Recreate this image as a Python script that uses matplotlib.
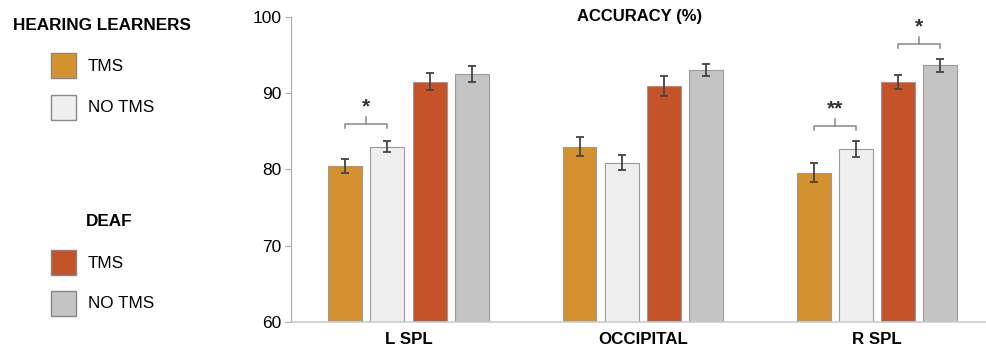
import matplotlib.pyplot as plt
from matplotlib.patches import Rectangle
import numpy as np

plt.rcParams['font.family'] = ['Liberation Sans', 'DejaVu Sans']

regions = ['L SPL', 'OCCIPITAL', 'R SPL']
conditions = ['Hearing TMS', 'Hearing NO TMS', 'Deaf TMS', 'Deaf NO TMS']
colors = ['#D4912F', '#EFEFEF', '#C4532A', '#C4C4C4']

# accuracy (%) per region, one list per condition
hearing_tms = [80.5, 83.0, 79.6]
hearing_notms = [83.0, 80.9, 82.7]
deaf_tms = [91.5, 91.0, 91.5]
deaf_notms = [92.5, 93.1, 93.7]
means = [hearing_tms, hearing_notms, deaf_tms, deaf_notms]

hearing_tms_err = [0.9, 1.2, 1.2]
hearing_notms_err = [0.75, 0.95, 1.1]
deaf_tms_err = [1.1, 1.3, 0.9]
deaf_notms_err = [1.05, 0.8, 0.85]
errs = [hearing_tms_err, hearing_notms_err, deaf_tms_err, deaf_notms_err]

# significance: (region index, bar a, bar b, bracket height, stars)
sig = [(0, 0, 1, 86.0, '*'), (2, 0, 1, 85.7, '**'), (2, 2, 3, 96.5, '*')]

fig = plt.figure(figsize=(9.87, 3.58), dpi=100)
ax = fig.add_axes([0.2953, 0.1006, 0.7047, 0.8519])

x = np.arange(len(regions))
width = 0.145
step = 0.18
offsets = [-1.5 * step, -0.5 * step, 0.5 * step, 1.5 * step]

for i in range(4):
    ax.bar(x + offsets[i], means[i], width, bottom=0, color=colors[i],
           edgecolor='#9a9a9a', linewidth=0.8, zorder=2)
    ax.errorbar(x + offsets[i], means[i], yerr=errs[i], fmt='none',
                ecolor='#444444', elinewidth=1.3, capsize=3, capthick=1.3, zorder=3)

for g, a, b, y, lab in sig:
    xa = x[g] + offsets[a]
    xb = x[g] + offsets[b]
    xm = (xa + xb) / 2
    ax.plot([xa, xa, xb, xb], [y - 0.5, y, y, y - 0.5], color='#888888', lw=1.1, zorder=3)
    ax.plot([xm, xm], [y, y + 0.9], color='#888888', lw=1.1, zorder=3)
    ax.text(xm, y + 1.0, lab, ha='center', va='bottom', fontsize=15,
            fontweight='bold', color='#333333')

ax.set_ylim(60, 100)
ax.set_xlim(-0.5, 2.47)
ax.set_yticks([60, 70, 80, 90, 100])
ax.set_xticks(x)
ax.set_xticklabels(regions, fontsize=12.2, fontweight='bold')
ax.tick_params(axis='y', labelsize=12.5, length=4, color='#aaaaaa', pad=3)
ax.tick_params(axis='x', length=0, pad=7)
ax.spines['top'].set_visible(False)
ax.spines['right'].set_visible(False)
ax.spines['left'].set_color('#aaaaaa')
ax.spines['bottom'].set_color('#cccccc')
ax.spines['bottom'].set_linewidth(1.2)

fig.text(640 / 987, 1 - 17 / 358, 'ACCURACY (%)', ha='center', va='center',
         fontsize=12, fontweight='bold')

# legend on the left
fig.text(13 / 987, 1 - 25 / 358, 'HEARING LEARNERS', ha='left', va='center',
         fontsize=12.3, fontweight='bold')
fig.text(86 / 987, 1 - 222 / 358, 'DEAF', ha='left', va='center',
         fontsize=12.3, fontweight='bold')
legend_y = [65, 107, 262, 303]
for i in range(4):
    yc = 1 - legend_y[i] / 358
    fig.add_artist(Rectangle((51 / 987, yc - 12.5 / 358), 25 / 987, 25 / 358,
                             transform=fig.transFigure, facecolor=colors[i],
                             edgecolor='#888888', linewidth=1.0))
    fig.text(88 / 987, yc - 1 / 358, 'TMS' if i % 2 == 0 else 'NO TMS', ha='left',
             va='center', fontsize=12.3)

fig.savefig('out.png', dpi=100)
